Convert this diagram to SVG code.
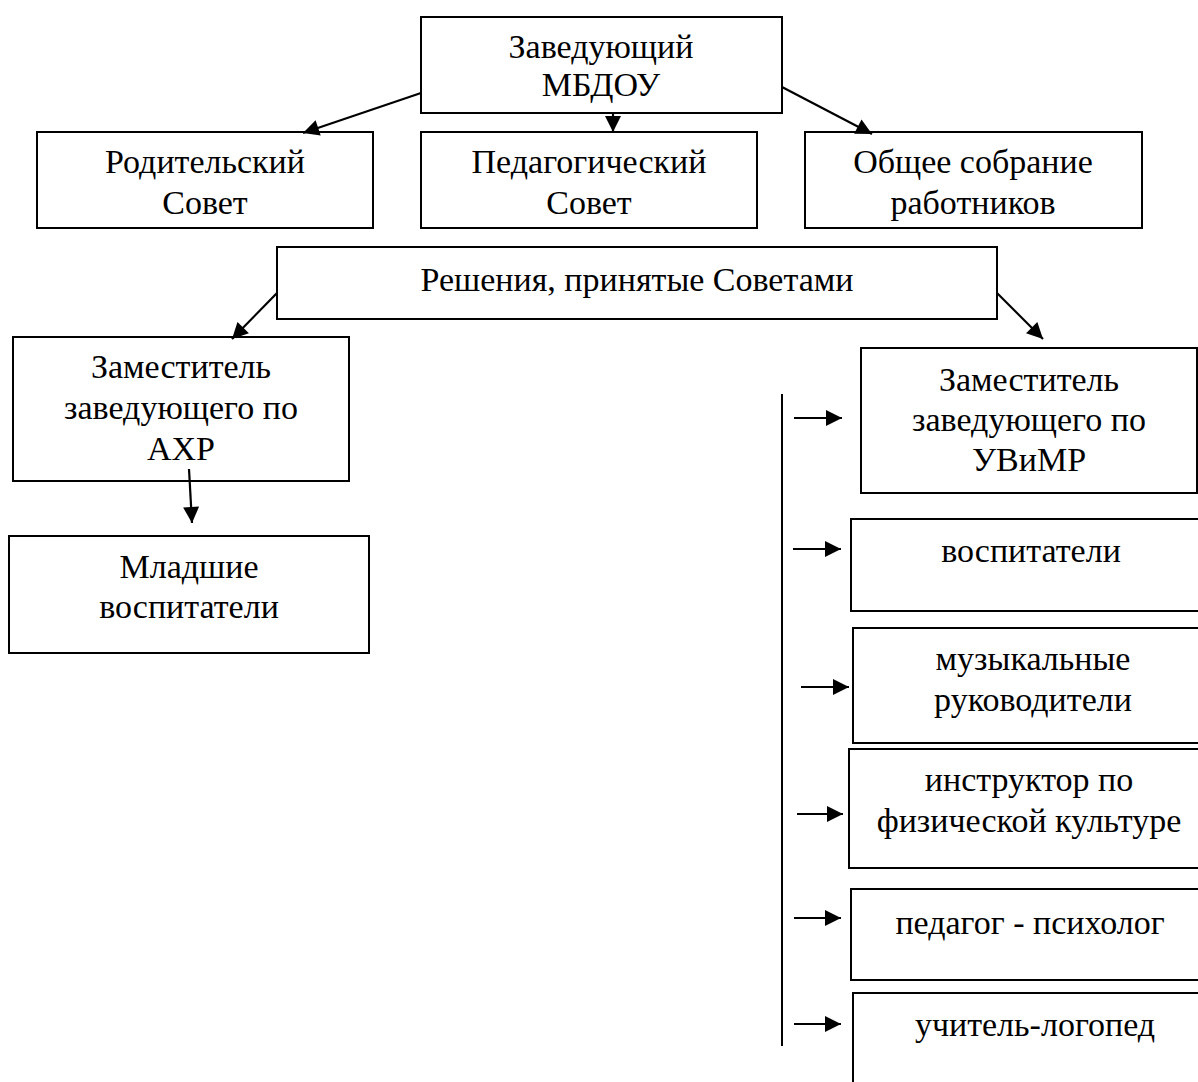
<svg xmlns="http://www.w3.org/2000/svg" width="1198" height="1082" viewBox="0 0 1198 1082">
  <style>
    .box { fill: #fff; stroke: #000; stroke-width: 2; }
    .t { font-family: "Liberation Serif", "Times New Roman", serif; font-size: 34px; fill: #000; text-anchor: middle; }
    .c { stroke: #000; stroke-width: 2.2; fill: none; marker-end: url(#ah); }
    .plain { stroke: #000; stroke-width: 2; fill: none; }
  </style>
  <defs>
    <marker id="ah" viewBox="0 0 10 10" refX="10" refY="5" markerWidth="19" markerHeight="16" markerUnits="userSpaceOnUse" orient="auto">
      <path d="M0,0 L10,5 L0,10 z" fill="#000"/>
    </marker>
  </defs>
  <rect width="1198" height="1082" fill="#fff"/>

  <g id="n-head">
    <rect class="box" x="421" y="17" width="361" height="96"/>
    <text class="t" x="601" y="58">Заведующий</text>
    <text class="t" x="601" y="96">МБДОУ</text>
  </g>
  <g id="n-parent">
    <rect class="box" x="37" y="132" width="336" height="96"/>
    <text class="t" x="205" y="173">Родительский</text>
    <text class="t" x="205" y="214">Совет</text>
  </g>
  <g id="n-ped">
    <rect class="box" x="421" y="132" width="336" height="96"/>
    <text class="t" x="589" y="173">Педагогический</text>
    <text class="t" x="589" y="214">Совет</text>
  </g>
  <g id="n-general">
    <rect class="box" x="805" y="132" width="337" height="96"/>
    <text class="t" x="973" y="173">Общее собрание</text>
    <text class="t" x="973" y="214">работников</text>
  </g>
  <g id="n-decisions">
    <rect class="box" x="277" y="247" width="720" height="72"/>
    <text class="t" x="637" y="291">Решения, принятые Советами</text>
  </g>
  <g id="n-axr">
    <rect class="box" x="13" y="337" width="336" height="144"/>
    <text class="t" x="181" y="378">Заместитель</text>
    <text class="t" x="181" y="419">заведующего по</text>
    <text class="t" x="181" y="460">АХР</text>
  </g>
  <g id="n-junior">
    <rect class="box" x="9" y="536" width="360" height="117"/>
    <text class="t" x="189" y="578">Младшие</text>
    <text class="t" x="189" y="618">воспитатели</text>
  </g>
  <g id="n-uvimr">
    <rect class="box" x="861" y="348" width="336" height="145"/>
    <text class="t" x="1029" y="391">Заместитель</text>
    <text class="t" x="1029" y="431">заведующего по</text>
    <text class="t" x="1029" y="471">УВиМР</text>
  </g>
  <g id="n-educators">
    <rect class="box" x="851" y="519" width="348" height="92"/>
    <text class="t" x="1031" y="562">воспитатели</text>
  </g>
  <g id="n-music">
    <rect class="box" x="853" y="628" width="346" height="115"/>
    <text class="t" x="1033" y="670">музыкальные</text>
    <text class="t" x="1033" y="711">руководители</text>
  </g>
  <g id="n-phys">
    <rect class="box" x="849" y="749" width="350" height="119"/>
    <text class="t" x="1029" y="791">инструктор по</text>
    <text class="t" x="1029" y="832">физической культуре</text>
  </g>
  <g id="n-psych">
    <rect class="box" x="851" y="889" width="348" height="91"/>
    <text class="t" x="1030" y="934">педагог - психолог</text>
  </g>
  <g id="n-logo">
    <rect class="box" x="853" y="993" width="346" height="100"/>
    <text class="t" x="1035" y="1036">учитель-логопед</text>
  </g>

  <g id="connectors">
    <line class="c" x1="421" y1="93" x2="303" y2="133"/>
    <line class="c" x1="613" y1="113" x2="613" y2="132"/>
    <line class="c" x1="782" y1="87" x2="872" y2="134"/>
    <line class="c" x1="277" y1="293" x2="232" y2="339"/>
    <line class="c" x1="997" y1="293" x2="1043" y2="339"/>
    <line class="c" x1="189" y1="469" x2="192" y2="523"/>
    <line class="plain" x1="782" y1="394" x2="782" y2="1046"/>
    <line class="c" x1="794" y1="418" x2="842" y2="418"/>
    <line class="c" x1="793" y1="549" x2="841" y2="549"/>
    <line class="c" x1="801" y1="687" x2="849" y2="687"/>
    <line class="c" x1="797" y1="814" x2="843" y2="814"/>
    <line class="c" x1="794" y1="918" x2="841" y2="918"/>
    <line class="c" x1="794" y1="1024" x2="841" y2="1024"/>
  </g>
</svg>
